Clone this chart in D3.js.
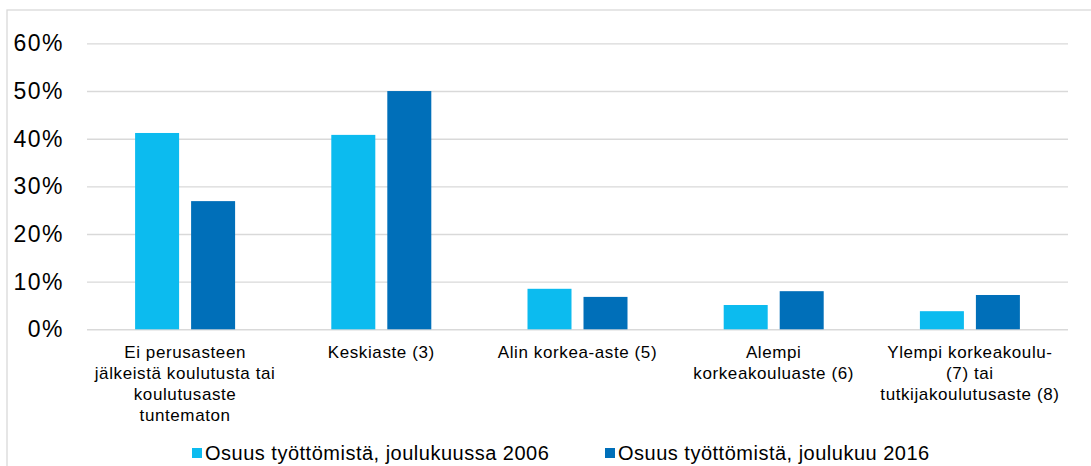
<!DOCTYPE html>
<html>
<head>
<meta charset="utf-8">
<script src="https://cdn.jsdelivr.net/npm/d3@7"></script>
<style>
  body { margin: 0; background: #fff; }
  svg { display: block; font-family: "Liberation Sans", Arial, sans-serif; }
</style>
</head>
<body>
<svg id="chart" width="1091" height="466"></svg>
<script>
// data
const categories = [
  "Ei perusasteen\njälkeistä koulutusta tai\nkoulutusaste\ntuntematon",
  "Keskiaste (3)",
  "Alin korkea-aste (5)",
  "Alempi\nkorkeakouluaste (6)",
  "Ylempi korkeakoulu-\n(7) tai\ntutkijakoulutusaste (8)"
]
const seriesNames = ["Osuus työttömistä, joulukuussa 2006", "Osuus työttömistä, joulukuu 2016"]
const values2006 = [0.412, 0.408, 0.085, 0.051, 0.038]
const values2016 = [0.269, 0.500, 0.068, 0.080, 0.072]
const yTicks = [0, 0.1, 0.2, 0.3, 0.4, 0.5, 0.6]
const colors = ["#0cbbef", "#006fb9"]

const svg = d3.select("#chart")

// outer border, runs off right/bottom edge like the source
svg.append("rect")
  .attr("x", 7).attr("y", 10)
  .attr("width", 1100).attr("height", 470)
  .attr("fill", "none")
  .attr("stroke", "#d9d9d9")
  .attr("stroke-width", 1.3)

const x0 = d3.scaleBand().domain(categories).range([87, 1068])
const x1 = d3.scaleBand().domain(seriesNames).range([0, 100]).paddingInner(12 / 56)
const y = d3.scaleLinear().domain([0, 0.6]).range([329.3, 43.4])

// gridlines + tick labels via axis
const yAxis = svg.append("g")
  .attr("transform", "translate(87,0)")
  .call(d3.axisLeft(y).tickValues(yTicks).tickFormat(d3.format(".0%")).tickSize(-981).tickPadding(23))
yAxis.select(".domain").remove()
yAxis.selectAll(".tick line").attr("stroke", "#d9d9d9").attr("stroke-width", 1.4)
yAxis.selectAll(".tick text")
  .attr("font-size", 23)
  .attr("letter-spacing", 1.5)
  .attr("fill", "#000")
  .attr("font-family", "Liberation Sans, Arial, sans-serif")

const rows = categories.map((c, i) => ({ cat: c, vals: [values2006[i], values2016[i]] }))

svg.append("g").selectAll("g")
  .data(rows)
  .join("g")
  .attr("transform", d => `translate(${x0(d.cat) + (x0.bandwidth() - 100) / 2},0)`)
  .selectAll("rect")
  .data(d => d.vals.map((v, j) => ({ s: seriesNames[j], v: v, j: j })))
  .join("rect")
  .attr("x", d => x1(d.s))
  .attr("width", x1.bandwidth())
  .attr("y", d => y(d.v))
  .attr("height", d => y(0) - y(d.v))
  .attr("fill", d => colors[d.j])

// category labels
const catLabels = svg.append("g").selectAll("text")
  .data(categories)
  .join("text")
  .attr("text-anchor", "middle")
  .attr("font-size", 17)
  .attr("letter-spacing", 0.6)
  .attr("fill", "#000")
catLabels.each(function (c) {
  const t = d3.select(this)
  c.split("\n").forEach((line, k) => {
    t.append("tspan")
      .attr("x", x0(c) + x0.bandwidth() / 2)
      .attr("y", 358 + k * 21)
      .text(line)
  })
})

// legend
const legendX = [192, 605]
const legend = svg.append("g").selectAll("g")
  .data(seriesNames)
  .join("g")
  .attr("transform", (d, i) => `translate(${legendX[i]},0)`)
legend.append("rect")
  .attr("x", 0).attr("y", 448)
  .attr("width", 10).attr("height", 10)
  .attr("fill", (d, i) => colors[i])
legend.append("text")
  .attr("x", 13).attr("y", 460)
  .attr("font-size", 20)
  .attr("letter-spacing", 0.5)
  .attr("fill", "#000")
  .text(d => d)
</script>
</body>
</html>
